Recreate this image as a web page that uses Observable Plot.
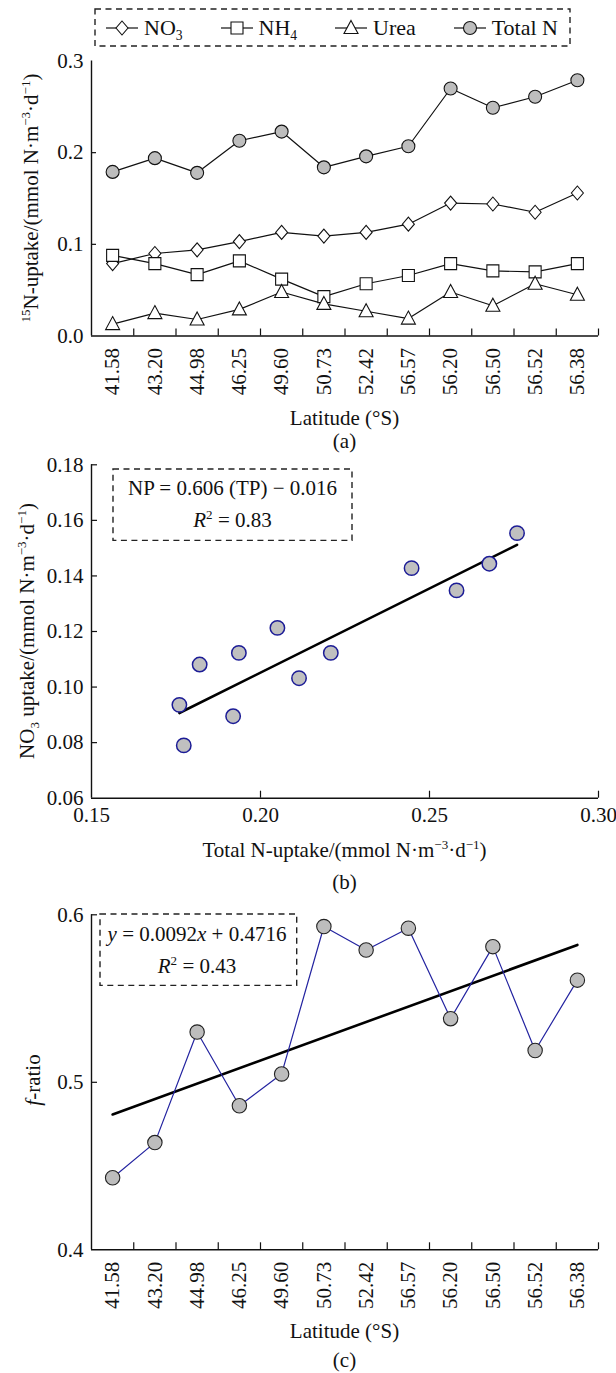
<!DOCTYPE html>
<html><head><meta charset="utf-8">
<script src="https://cdn.jsdelivr.net/npm/d3@7"></script>
<script src="https://cdn.jsdelivr.net/npm/@observablehq/plot@0.6"></script>
<style>
body{margin:0;background:#fff;}
#wrap{position:relative;width:616px;height:1373px;font-family:"Liberation Serif","Times New Roman",serif;color:#111;overflow:hidden;}
#wrap svg text{font-family:"Liberation Serif","Times New Roman",serif !important;font-size:21px !important;}
.ctr{position:absolute;transform:translate(-50%,-50%);white-space:nowrap;line-height:1;font-size:21px;}
.ylab{position:absolute;transform:translate(-50%,-50%) rotate(-90deg);white-space:nowrap;line-height:1;font-size:21px;}
sup,sub{font-size:0.62em;line-height:0;}
#legend{position:absolute;display:flex;align-items:center;justify-content:space-between;font-size:22px;}
#legend .it{display:flex;align-items:center;}
#legend svg{margin-right:6px;}
</style>
</head><body>
<div id="wrap"></div>
<script>
// ---------------- data ----------------
const latitudes = ["41.58","43.20","44.98","46.25","49.60","50.73","52.42","56.57","56.20","56.50","56.52","56.38"];
const no3Uptake   = [0.079,0.090,0.094,0.103,0.113,0.109,0.113,0.122,0.145,0.144,0.135,0.156];
const nh4Uptake   = [0.088,0.079,0.067,0.082,0.062,0.043,0.057,0.066,0.079,0.071,0.070,0.079];
const ureaUptake  = [0.013,0.025,0.018,0.029,0.048,0.035,0.027,0.019,0.048,0.033,0.057,0.045];
const totalUptake = [0.179,0.194,0.178,0.213,0.223,0.184,0.196,0.207,0.270,0.249,0.261,0.279];
const scatterTotal = [0.176,0.1773,0.182,0.1919,0.1936,0.205,0.2114,0.2208,0.2447,0.258,0.2677,0.2759];
const scatterNO3   = [0.0936,0.079,0.1081,0.0895,0.1123,0.1213,0.1032,0.1123,0.1428,0.1348,0.1444,0.1554];
const fitBCoef = [0.606, -0.016];   // slope, intercept
const fRatio = [0.443,0.464,0.530,0.486,0.505,0.593,0.579,0.592,0.538,0.581,0.519,0.561];
const fitCCoef = [0.0092, 0.4716]; // slope, intercept (x = station index)
const yTicksA = [0, 0.1, 0.2, 0.3];
const yTicksB = [0.06, 0.08, 0.10, 0.12, 0.14, 0.16, 0.18];
const xTicksB = [0.15, 0.20, 0.25, 0.30];
const yTicksC = [0.4, 0.5, 0.6];

// ---------------- helpers ----------------
const wrap = document.getElementById("wrap");
const FONT = '"Liberation Serif","Times New Roman",serif';
const W = 616, ML = 91, MR = 18, innerW = W - ML - MR;
const idx = d3.range(1, 13);
const bounds = d3.range(1.5, 12.51, 1);
function place(el, top){ el.style.position="absolute"; el.style.left="0px"; el.style.top=top+"px"; wrap.appendChild(el); }
function html(cls, x, y, inner){ const d=document.createElement("div"); d.className=cls; d.style.left=x+"px"; d.style.top=y+"px"; d.innerHTML=inner; wrap.appendChild(d); return d; }
function dashBox(x0,y0,x1,y1){
  const s = d3.create("svg").attr("width",x1-x0+4).attr("height",y1-y0+4)
    .style("position","absolute").style("left",(x0-2)+"px").style("top",(y0-2)+"px");
  s.append("rect").attr("x",2).attr("y",2).attr("width",x1-x0).attr("height",y1-y0)
    .attr("fill","none").attr("stroke","#222").attr("stroke-width",1.4).attr("stroke-dasharray","6,4.5");
  wrap.appendChild(s.node());
}
const diamondSym = {draw(c){ c.moveTo(0,-7); c.lineTo(6,0); c.lineTo(0,7); c.lineTo(-6,0); c.closePath(); }};
const squareSym  = {draw(c){ c.moveTo(-6,-6); c.lineTo(6,-6); c.lineTo(6,6); c.lineTo(-6,6); c.closePath(); }};
const triSym     = {draw(c){ c.moveTo(0,-7.5); c.lineTo(7,5.5); c.lineTo(-7,5.5); c.closePath(); }};
const circSym    = {draw(c){ c.moveTo(6.5,0); c.arc(0,0,6.5,0,2*Math.PI); }};
const baseStyle = {fontFamily: FONT, fontSize: "21px", color: "#111", background: "transparent", overflow: "visible"};

// ---------------- legend ----------------
dashBox(95, 9, 570, 46);
const legend = document.createElement("div"); legend.id="legend";
legend.style.left="106px"; legend.style.top="12px"; legend.style.height="32px"; legend.style.width="452px";
const legItems = [["NO<sub>3</sub>", diamondSym, "#fff"], ["NH<sub>4</sub>", squareSym, "#fff"], ["Urea", triSym, "#fff"], ["Total N", circSym, "#bdbdbd"]];
for (const [lab, sym, fill] of legItems){
  const it = document.createElement("div"); it.className="it";
  const s = d3.create("svg").attr("width",32).attr("height",20);
  s.append("line").attr("x1",0).attr("x2",32).attr("y1",10).attr("y2",10).attr("stroke","#111").attr("stroke-width",1.2);
  s.append("path").attr("transform","translate(16,10)").attr("d", d3.symbol(sym)()).attr("fill",fill).attr("stroke","#111").attr("stroke-width",1.1);
  it.appendChild(s.node());
  const t = document.createElement("span"); t.innerHTML = lab; it.appendChild(t);
  legend.appendChild(it);
}
wrap.appendChild(legend);

// ---------------- panel (a) ----------------
{
  const top = 40, H = 410, mt = 20.5, mb = 114.5, innerH = H - mt - mb;
  const series = [[no3Uptake, diamondSym, "#fff"], [nh4Uptake, squareSym, "#fff"], [ureaUptake, triSym, "#fff"], [totalUptake, circSym, "#bdbdbd"]];
  const marks = [
    Plot.axisY({ticks: yTicksA, tickSize: 0, tickPadding: 8, tickFormat: d3.format(".1f"), label: null}),
    Plot.tickY(yTicksA.slice(1, 3), {y: d => d, insetRight: innerW - 5, stroke: "#111", strokeWidth: 1.2}),
    Plot.axisX({ticks: idx, tickSize: 0, tickPadding: 12, tickRotate: -90, tickFormat: i => latitudes[i - 1], label: null}),
    Plot.tickX(bounds, {x: d => d, insetTop: innerH - 7, stroke: "#111", strokeWidth: 1.2}),
    Plot.ruleX([0.5], {stroke: "#111", strokeWidth: 1.4}),
    Plot.ruleY([0], {stroke: "#111", strokeWidth: 1.4})
  ];
  for (const [vals] of series){
    marks.push(Plot.line(idx, {x: d => d, y: d => vals[d - 1], stroke: "#111", strokeWidth: 1.2}));
  }
  for (const [vals, sym, fill] of series){
    marks.push(Plot.dot(idx, {x: d => d, y: d => vals[d - 1], symbol: sym, fill, stroke: "#111", strokeWidth: 1.1}));
  }
  const p = Plot.plot({width: W, height: H, marginLeft: ML, marginRight: MR, marginTop: mt, marginBottom: mb,
    x: {domain: [0.5, 12.5]}, y: {domain: [0, 0.3]}, style: baseStyle, marks});
  place(p, top);
  html("ylab", 31, 198, "<sup>15</sup>N-uptake/(mmol N·m<sup>−3</sup>·d<sup>−1</sup>)");
  html("ctr", 344.5, 418, "Latitude (°S)");
  html("ctr", 344.5, 441, "(a)");
}

// ---------------- panel (b) ----------------
{
  const top = 440, H = 390, mt = 24.3, mb = 32.3, innerH = H - mt - mb;
  const [b1, b0] = fitBCoef;
  const ext = d3.extent(scatterTotal);
  const p = Plot.plot({width: W, height: H, marginLeft: ML, marginRight: MR, marginTop: mt, marginBottom: mb,
    x: {domain: [0.15, 0.30]}, y: {domain: [0.06, 0.18]}, style: baseStyle,
    marks: [
      Plot.axisY({ticks: yTicksB, tickSize: 0, tickPadding: 8, tickFormat: d3.format(".2f"), label: null}),
      Plot.tickY(yTicksB.slice(1), {y: d => d, insetRight: innerW - 6, stroke: "#111", strokeWidth: 1.2}),
      Plot.axisX({ticks: xTicksB, tickSize: 0, tickPadding: 9, tickFormat: d3.format(".2f"), label: null}),
      Plot.tickX(xTicksB.slice(1), {x: d => d, insetTop: innerH - 7, stroke: "#111", strokeWidth: 1.2}),
      Plot.ruleX([0.15], {stroke: "#111", strokeWidth: 1.4}),
      Plot.ruleY([0.06], {stroke: "#111", strokeWidth: 1.4}),
      Plot.line(ext, {x: d => d, y: d => b1 * d + b0, stroke: "#000", strokeWidth: 2.6}),
      Plot.dot(d3.range(scatterTotal.length), {x: i => scatterTotal[i], y: i => scatterNO3[i], r: 7.2, fill: "#c0c0c0", stroke: "#1c1c96", strokeWidth: 1.5})
    ]});
  place(p, top);
  html("ylab", 27, 631, "NO<sub>3</sub> uptake/(mmol N·m<sup>−3</sup>·d<sup>−1</sup>)");
  dashBox(113, 469.3, 352, 540.7);
  html("ctr", 232.5, 488, "NP = 0.606 (TP) − 0.016");
  html("ctr", 232.5, 520, "<i>R</i><sup>2</sup> = 0.83");
  html("ctr", 344.5, 850, "Total N-uptake/(mmol N·m<sup>−3</sup>·d<sup>−1</sup>)");
  html("ctr", 344.5, 882, "(b)");
}

// ---------------- panel (c) ----------------
{
  const top = 895, H = 425, mt = 19.3, mb = 70.7, innerH = H - mt - mb;
  const [c1, c0] = fitCCoef;
  const p = Plot.plot({width: W, height: H, marginLeft: ML, marginRight: MR, marginTop: mt, marginBottom: mb,
    x: {domain: [0.5, 12.5]}, y: {domain: [0.4, 0.6]}, style: baseStyle,
    marks: [
      Plot.axisY({ticks: yTicksC, tickSize: 0, tickPadding: 8, tickFormat: d3.format(".1f"), label: null}),
      Plot.tickY(yTicksC.slice(1), {y: d => d, insetRight: innerW - 6, stroke: "#111", strokeWidth: 1.2}),
      Plot.axisX({ticks: idx, tickSize: 0, tickPadding: 12, tickRotate: -90, tickFormat: i => latitudes[i - 1], label: null}),
      Plot.tickX(bounds, {x: d => d, insetTop: innerH - 7, stroke: "#111", strokeWidth: 1.2}),
      Plot.ruleX([0.5], {stroke: "#111", strokeWidth: 1.4}),
      Plot.ruleY([0.4], {stroke: "#111", strokeWidth: 1.4}),
      Plot.line([1, 12], {x: d => d, y: d => c1 * d + c0, stroke: "#000", strokeWidth: 2.6}),
      Plot.line(idx, {x: d => d, y: d => fRatio[d - 1], stroke: "#2323a0", strokeWidth: 1.2}),
      Plot.dot(idx, {x: d => d, y: d => fRatio[d - 1], r: 7.2, fill: "#bdbdbd", stroke: "#222", strokeWidth: 1.1})
    ]});
  place(p, top);
  html("ylab", 33, 1080, "<i>f</i>-ratio");
  dashBox(99.6, 914.3, 296.3, 985.7);
  html("ctr", 197, 933.5, "<i>y</i> = 0.0092<i>x</i> + 0.4716");
  html("ctr", 197, 966, "<i>R</i><sup>2</sup> = 0.43");
  html("ctr", 344.5, 1331, "Latitude (°S)");
  html("ctr", 344.5, 1360, "(c)");
}
</script>
</body></html>
